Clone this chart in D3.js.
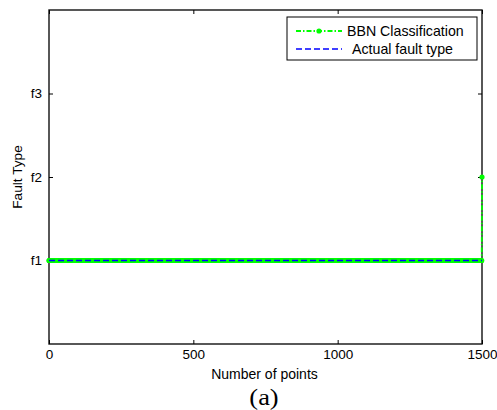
<!DOCTYPE html>
<html>
<head>
<meta charset="utf-8">
<script src="https://cdn.jsdelivr.net/npm/d3@7"></script>
<style>
  body { margin: 0; background: #fff; }
  text { font-family: "Liberation Sans", Arial, sans-serif; }
</style>
</head>
<body>
<div id="chart"></div>
<script>
// fault classes on the y axis
const classLabels = ['f1', 'f2', 'f3']
const classValues = [1, 2, 3]
const xTickValues = [0, 500, 1000, 1500]

// runs of [first point, last point, class]
const bbnRuns = [[0, 1499, 1], [1500, 1500, 2]]
const actualRuns = [[0, 1500, 1]]

const expand = runs => {
    const out = []
    runs.forEach(r => d3.range(r[0], r[1] + 1).forEach(i => out.push({ x: i, y: r[2] })))
    return out
}

const W = 497, H = 410
const margin = { left: 49, top: 10, right: 15, bottom: 66 }
const w = W - margin.left - margin.right
const h = H - margin.top - margin.bottom

const svg = d3.select('#chart').append('svg')
    .attr('width', W).attr('height', H)
const g = svg.append('g').attr('transform', 'translate(' + margin.left + ',' + margin.top + ')')

const x = d3.scaleLinear().domain([0, 1500]).range([0, w])
const y = d3.scaleLinear().domain([0, 4]).range([h, 0])

const line = d3.line().x(d => x(d.x)).y(d => y(d.y))

const bbn = expand(bbnRuns)
const actual = expand(actualRuns)

// axes frame first, MATLAB style ticks pointing inward on all sides
const fmtY = d => classLabels[classValues.indexOf(d)]
const style = sel => {
    sel.select('.domain').remove()
    sel.selectAll('line').attr('stroke', '#000')
    sel.selectAll('text').attr('fill', '#000').style('font-size', '13.5px')
}
g.append('rect')
    .attr('width', w).attr('height', h)
    .attr('fill', 'none').attr('stroke', '#111').attr('stroke-width', 1.4)
g.append('g').attr('transform', 'translate(0,' + h + ')')
    .call(d3.axisBottom(x).tickValues(xTickValues).tickSize(-4).tickPadding(5).tickFormat(d3.format('d')))
    .call(style)
g.append('g')
    .call(d3.axisTop(x).tickValues(xTickValues).tickSize(-4).tickFormat(''))
    .call(style)
g.append('g')
    .call(d3.axisLeft(y).tickValues(classValues).tickSize(-4).tickPadding(7).tickFormat(fmtY))
    .call(style)
g.append('g').attr('transform', 'translate(' + w + ',0)')
    .call(d3.axisRight(y).tickValues(classValues).tickSize(-4).tickFormat(''))
    .call(style)

// BBN classification: dash-dot line with point markers
g.append('path').datum(bbn)
    .attr('d', line)
    .attr('fill', 'none')
    .attr('stroke', '#00ff00')
    .attr('stroke-width', 1.8)
    .attr('stroke-dasharray', '5,2,1.5,2')
g.append('g').selectAll('circle').data(bbn).join('circle')
    .attr('cx', d => x(d.x)).attr('cy', d => y(d.y))
    .attr('r', 2.6).attr('fill', '#00ff00')

// actual fault type: dashed blue
g.append('path').datum(actual)
    .attr('d', line)
    .attr('fill', 'none')
    .attr('stroke', '#0000ff')
    .attr('stroke-width', 1.6)
    .attr('stroke-dasharray', '6,3')

// axis titles
svg.append('text')
    .attr('x', margin.left + w / 2 - 1).attr('y', 379)
    .attr('text-anchor', 'middle').style('font-size', '14px')
    .text('Number of points')
svg.append('text')
    .attr('transform', 'translate(22,' + (margin.top + h / 2) + ') rotate(-90)')
    .attr('text-anchor', 'middle').style('font-size', '13.7px')
    .text('Fault Type')
svg.append('text')
    .attr('transform', 'translate(264,405) scale(1.15,1)')
    .attr('text-anchor', 'middle')
    .style('font-family', '"Liberation Serif", "Times New Roman", serif')
    .style('font-size', '23px')
    .text('(a)')

// legend
const legend = svg.append('g').attr('transform', 'translate(287,17)')
legend.append('rect')
    .attr('width', 190).attr('height', 43)
    .attr('fill', '#fff').attr('stroke', '#000').attr('stroke-width', 1)
const l1 = legend.append('g').attr('transform', 'translate(0,14)')
l1.append('line').attr('x1', 9).attr('x2', 55)
    .attr('stroke', '#00ff00').attr('stroke-width', 1.8).attr('stroke-dasharray', '5,2,1.5,2')
l1.append('circle').attr('cx', 32).attr('r', 2.6).attr('fill', '#00ff00')
l1.append('text').attr('x', 60).attr('y', 5).style('font-size', '14.2px').text('BBN Classification')
const l2 = legend.append('g').attr('transform', 'translate(0,32)')
l2.append('line').attr('x1', 9).attr('x2', 55)
    .attr('stroke', '#0000ff').attr('stroke-width', 1.6).attr('stroke-dasharray', '6,3')
l2.append('text').attr('x', 65).attr('y', 5).style('font-size', '14.2px').text('Actual fault type')
</script>
</body>
</html>
